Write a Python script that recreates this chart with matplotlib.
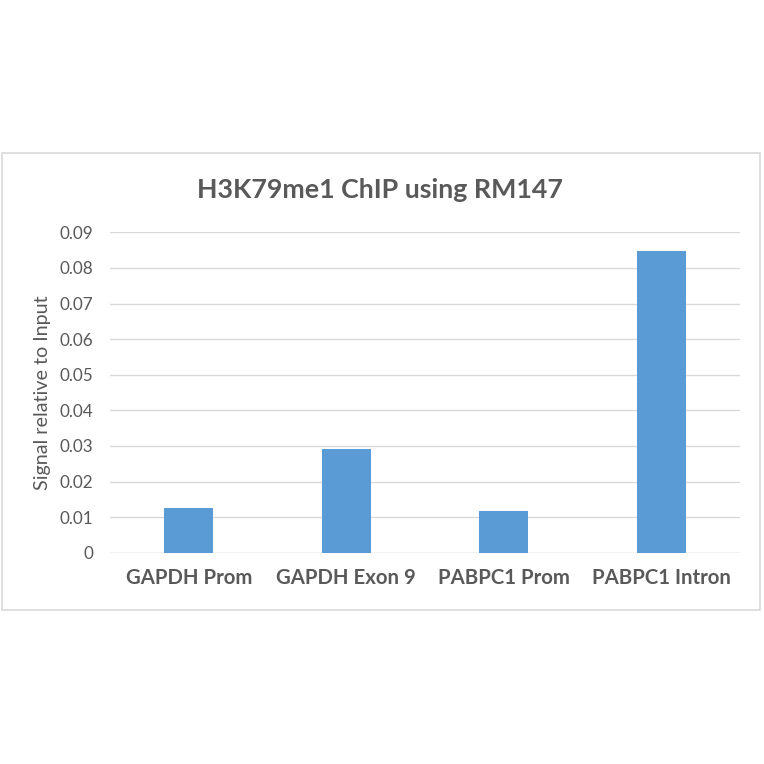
import matplotlib
matplotlib.use("Agg")
import matplotlib.pyplot as plt
from matplotlib.patches import Rectangle

categories = ["GAPDH Prom", "GAPDH Exon 9", "PABPC1 Prom", "PABPC1 Intron"]
values = [0.0125, 0.0291, 0.0118, 0.0847]
yticks = [0, 0.01, 0.02, 0.03, 0.04, 0.05, 0.06, 0.07, 0.08, 0.09]
yticklabels = ["0", "0.01", "0.02", "0.03", "0.04", "0.05", "0.06", "0.07", "0.08", "0.09"]

plt.rcParams['font.family'] = ['Lato', 'DejaVu Sans']
gray = "#595959"

fig = plt.figure(figsize=(7.64, 7.64), dpi=100)
W = H = 764.0
# chart box border
fig.patches.append(Rectangle((2 / W, 1 - 610 / H), 758 / W, (610 - 153) / H,
                             transform=fig.transFigure, fill=False,
                             edgecolor="#d9d9d9", linewidth=1.2))

ax = fig.add_axes([110 / W, 1 - 552.7 / H, 630 / W, (552.7 - 232.3) / H * 1.0])
ax.set_ylim(0, 0.09)
ax.set_xlim(-0.5, 3.5)
ax.bar(range(len(categories)), values, width=0.31, color="#5B9BD5", zorder=3)
ax.set_yticks(yticks)
ax.set_yticklabels(yticklabels, color=gray, fontsize=12.3)
ax.set_xticks(range(len(categories)))
ax.set_xticklabels(categories, color=gray, fontsize=14.7, fontweight="bold")
ax.tick_params(axis="both", length=0)
ax.tick_params(axis="y", pad=12)
ax.tick_params(axis="x", pad=11)
ax.grid(axis="y", color="#d9d9d9", linewidth=1.0, zorder=0)
ax.axhline(0, color="#d9d9d9", linewidth=1.0, zorder=1)
for s in ax.spines.values():
    s.set_visible(False)
ax.set_ylabel("Signal relative to Input", color=gray, fontsize=14.2, labelpad=6)
fig.text(380 / W, 1 - 190 / H, "H3K79me1 ChIP using RM147", ha="center", va="center",
         color=gray, fontsize=19.3, fontweight="bold")

fig.savefig("out.png", dpi=100, facecolor="white")
